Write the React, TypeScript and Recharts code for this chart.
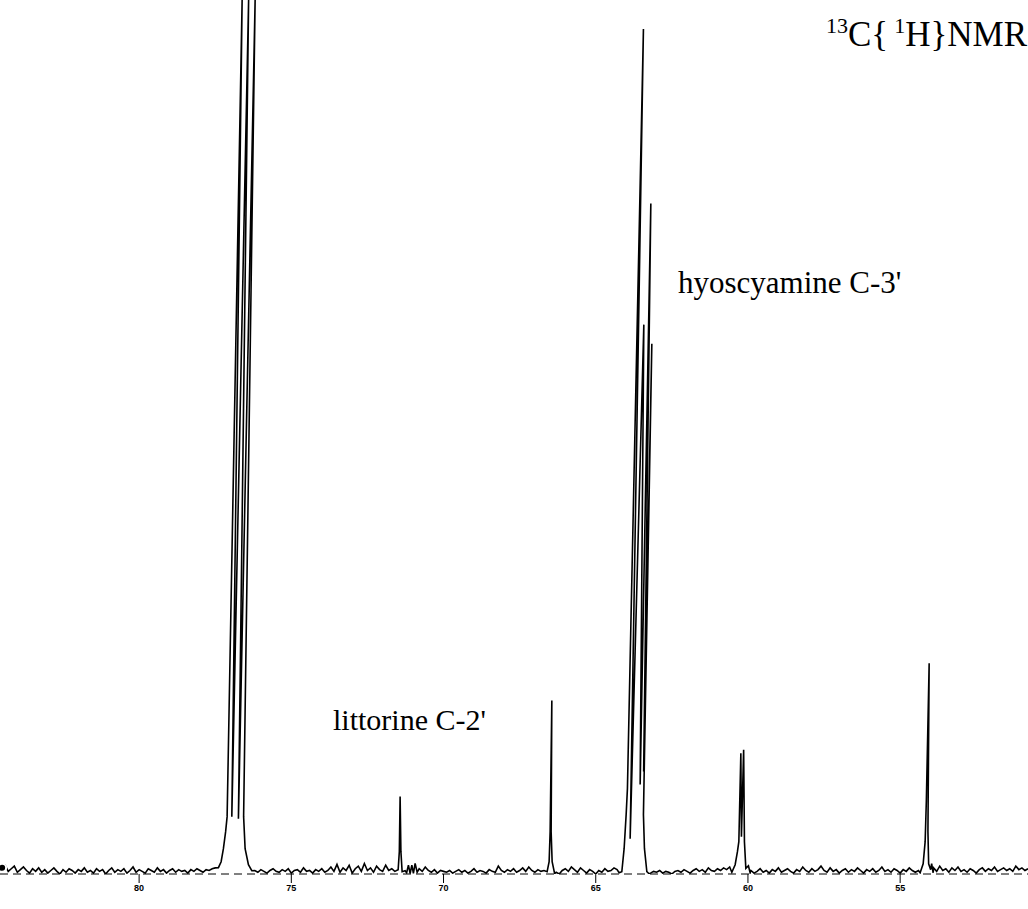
import { LineChart, Line, XAxis, YAxis } from "recharts"

// chemical shift sampling step of the baseline noise (ppm)
const STEP = 0.1

// baseline noise between peaks (intensity, % of plot height)
const NOISE_A = [
  0.9, 1.2, 0.5, 0.8, 1.1, 0.4, 0.7, 1.0, 0.6, 0.3,
  0.8, 0.5, 0.9, 0.4, 0.7, 0.3, 0.6, 0.9, 0.5, 0.2,
  0.7, 0.4, 0.8, 0.6, 0.3, 0.7, 0.5, 0.9, 0.4, 0.6,
  0.3, 0.8, 0.5, 0.7, 0.2, 0.6, 0.9, 0.4, 0.7, 0.5,
  0.8, 0.3, 0.6, 1.0, 0.4, 0.7, 0.5, 0.3, 0.8, 0.6,
  0.4, 0.9, 0.5, 0.7, 0.3, 0.6, 0.8, 0.4, 0.7, 0.5,
  0.6, 0.3, 0.7, 0.5, 0.8, 0.6, 0.4, 0.7, 0.6, 0.8, 0.9,
]
const NOISE_B = [
  0.6, 0.4, 0.7, 0.5, 0.3, 0.6, 0.8, 0.5, 0.4, 0.7,
  0.5, 0.8, 0.3, 0.6, 0.7, 0.4, 0.9, 0.5, 0.6, 0.3,
  0.7, 0.5, 0.8, 0.4, 0.6, 1.0, 0.5, 1.3, 0.4, 0.9,
  0.6, 1.2, 0.3, 0.8, 1.1, 0.5, 1.4, 0.6, 0.9, 0.4,
  1.1, 0.7, 0.5, 1.2, 0.6, 0.8, 0.5,
]
const NOISE_C = [
  0.8, 0.5, 1.0, 0.6, 0.4, 0.7, 0.3, 0.6, 0.5, 0.4,
  0.6, 0.3, 0.5, 0.7, 0.4, 0.6, 0.3, 0.5, 0.8, 0.4,
  0.6, 0.5, 0.3, 0.7, 0.5, 0.4, 1.1, 0.6, 0.4, 0.7,
  0.5, 0.8, 0.4, 0.6, 0.9, 0.5, 1.0, 0.6, 0.4, 0.7,
  0.5, 0.6,
]
const NOISE_D = [
  0.4, 0.2, 0.6, 0.8, 0.5, 1.0, 0.7, 0.4, 0.9, 0.6,
  0.3, 0.7, 0.5, 0.2, 0.6, 0.4, 0.8, 0.5, 0.6, 0.9, 0.7,
]
const NOISE_E = [
  0.3, 0.5, 0.4, 0.6, 0.3, 0.5, 0.4, 0.2, 0.5, 0.6,
  0.4, 0.7, 0.5, 0.3, 0.6, 0.8, 0.5, 0.7, 0.4, 0.9,
  0.6, 0.5, 0.8, 0.6, 0.9, 0.7, 1.0,
]
const NOISE_F = [
  0.6, 0.3, 0.5, 0.8, 0.4, 0.6, 0.3, 0.7, 0.5, 0.9,
  0.4, 0.6, 0.8, 0.5, 0.3, 0.7, 0.5, 1.0, 0.6, 0.4,
  0.8, 0.5, 0.7, 1.1, 0.6, 0.4, 0.9, 0.5, 0.7, 0.3,
  0.6, 0.8, 0.4, 0.7, 0.5, 0.9, 0.6, 0.3, 0.7, 0.5,
  0.8, 0.4, 0.6, 1.0, 0.5, 0.7, 0.4, 0.8, 0.6, 0.3,
  0.7, 0.5, 0.9, 0.6, 0.4, 0.6,
]
const NOISE_G = [
  0.9, 0.5, 1.1, 0.6, 0.8, 0.4, 0.9, 0.6, 1.0, 0.5,
  0.7, 0.4, 0.8, 0.6, 0.3, 0.7, 0.9, 0.5, 0.8, 0.6,
  1.0, 0.5, 0.7, 0.9, 0.6, 0.8, 0.5, 1.1, 0.7, 0.9,
  0.6, 0.8,
]
// first ppm of each noise stretch
const NOISE_STARTS = [84.5, 76.2, 70.8, 66.3, 63.2, 59.9, 53.9]

// peaks as [ppm, intensity] in drawing order (the plotter pen leans a little)
const CDCL3_TRIPLET = [
  [77.395, 0.92], [77.306, 1.6], [77.231, 3.09], [77.158, 5.03], [77.109, 6.75],
  [76.616, 100], [76.955, 6.75], [76.403, 100], [76.738, 6.52], [76.189, 100],
  [76.567, 6.75], [76.518, 3.09], [76.409, 1.26], [76.298, 0.57],
]
const LITTORINE_C2 = [
  [71.491, 0.69], [71.452, 2.75], [71.426, 9.04], [71.4, 2.75], [71.36, 0.46],
  [71.262, 0.57], [71.212, 0.34], [71.153, 1.22], [71.097, 0.26], [71.041, 1.22],
  [70.989, 0.26], [70.933, 1.41], [70.867, 0.4],
]
const PEAK_66 = [
  [66.597, 0.46], [66.531, 1.6], [66.498, 5.03], [66.442, 20.02], [66.465, 5.03],
  [66.432, 1.6], [66.35, 0.23],
]
const HYOSCYAMINE_C3 = [
  [64.231, 0.34], [64.143, 0.46], [64.067, 3.12], [64.001, 6.98], [63.959, 9.95],
  [63.433, 96.68], [63.87, 4.23], [63.42, 62.93], [63.541, 10.41], [63.19, 76.77],
  [63.426, 11.9], [63.157, 60.76], [63.433, 6.98], [63.4, 3.12], [63.321, 0.46],
  [63.246, 0.23],
]
const DOUBLET_60 = [
  [60.529, 0.4], [60.42, 1.26], [60.345, 2.75], [60.299, 3.89], [60.233, 13.99],
  [60.214, 4.46], [60.141, 14.38], [60.115, 3.89], [60.069, 0.84], [59.984, 1.14],
  [59.928, 0.34],
]
const PEAK_54 = [
  [54.343, 0.34], [54.244, 1.37], [54.179, 3.89], [54.14, 8.47], [54.047, 24.26],
  [54.087, 5.03], [54.064, 1.37], [53.998, 0.69], [53.965, 1.37], [53.916, 0.34],
]

const TICKS = [80, 75, 70, 65, 60, 55]

const noiseRuns = [NOISE_A, NOISE_B, NOISE_C, NOISE_D, NOISE_E, NOISE_F, NOISE_G]
const peakRuns = [CDCL3_TRIPLET, LITTORINE_C2, PEAK_66, HYOSCYAMINE_C3, DOUBLET_60, PEAK_54]

// noise stretch, peak, noise stretch, peak ... in pen order
const spectrum: { ppm: number; v: number }[] = []
noiseRuns.forEach((run, k) => {
  run.forEach((v, i) => {
    spectrum.push({ ppm: Math.round((NOISE_STARTS[k] - i * STEP) * 100) / 100, v })
  })
  if (peakRuns[k]) {
    peakRuns[k].forEach(([ppm, v]) => spectrum.push({ ppm, v }))
  }
})

const serif = "'Liberation Serif', 'Times New Roman', serif"

export default function App() {
  return (
    <div style={{ position: "absolute", left: 0, top: 0, width: 1028, height: 909, background: "#fff" }}>
      <LineChart width={1028} height={909} data={spectrum} margin={{ top: 0, right: 0, bottom: 0, left: 0 }}>
        <XAxis
          dataKey="ppm"
          type="number"
          domain={[50.8, 84.57]}
          reversed
          allowDataOverflow
          ticks={TICKS}
          interval={0}
          height={35}
          tickSize={9}
          tickLine={{ stroke: "#000" }}
          axisLine={{ stroke: "#000", strokeDasharray: "8 5" }}
          tick={{ fill: "#000", fontSize: 9, fontWeight: 700, fontFamily: "'Liberation Sans', sans-serif" }}
        />
        <YAxis hide type="number" domain={[0.2, 100]} allowDataOverflow />
        <Line
          type="linear"
          dataKey="v"
          stroke="#000"
          strokeWidth={1.6}
          dot={false}
          isAnimationActive={false}
        />
      </LineChart>
      <svg width={1028} height={909} style={{ position: "absolute", left: 0, top: 0, pointerEvents: "none" }}>
        <text x={826} y={46} fontFamily={serif} fontSize={35} fill="#000">
          <tspan fontSize={22} dy={-13}>13</tspan>
          <tspan dy={13}>C{"{"}</tspan>
          <tspan fontSize={22} dy={-13} dx={6}>1</tspan>
          <tspan dy={13}>H{"}"}NMR</tspan>
        </text>
        <text x={678} y={293} fontFamily={serif} fontSize={31} fill="#000">
          {"hyoscyamine C-3'"}
        </text>
        <text x={333} y={730} fontFamily={serif} fontSize={30} fill="#000">
          {"littorine C-2'"}
        </text>
      </svg>
    </div>
  )
}
